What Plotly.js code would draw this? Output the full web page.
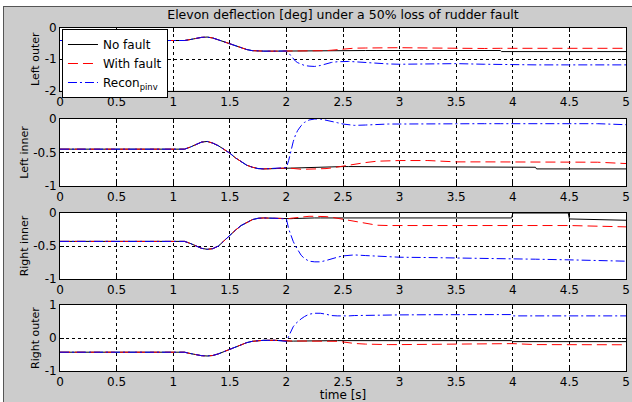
<!DOCTYPE html>
<html>
<head>
<meta charset="utf-8">
<script src="https://cdn.plot.ly/plotly-3.0.1.min.js"></script>
<style>
  html, body { margin: 0; padding: 0; background: #ffffff; width: 632px; height: 402px; overflow: hidden; }
  #chart { position: absolute; left: 3px; top: 6px; width: 628px; height: 395px;
           border-left: 1px solid #555; border-top: 1px solid #555; }
</style>
</head>
<body>
<div id="chart"></div>
<script>
// ---- time bases ----
const tPre  = [0, 1.1, 1.15, 1.2, 1.25, 1.3, 1.35, 1.4, 1.45, 1.5, 1.55, 1.6, 1.65, 1.7, 1.75, 1.8, 1.9, 2.0];
const tPost = [2.02, 2.04, 2.06, 2.08, 2.1, 2.13, 2.16, 2.2, 2.25, 2.3, 2.35, 2.4, 2.45, 2.5, 2.55, 2.6, 2.7, 2.8, 2.9, 3.0, 3.25, 3.5, 3.75, 3.89, 3.9, 3.99, 4.0, 4.2, 4.21, 4.49, 4.5, 4.75, 5.0];

// ---- common response before the fault (identical for all three series) ----
const leftOuterPre  = [-0.40, -0.40, -0.37, -0.33, -0.30, -0.29, -0.32, -0.38, -0.44, -0.50, -0.57, -0.64, -0.69, -0.725, -0.74, -0.74, -0.74, -0.735];
const leftInnerPre  = [-0.45, -0.45, -0.42, -0.38, -0.345, -0.335, -0.36, -0.40, -0.45, -0.51, -0.58, -0.64, -0.69, -0.72, -0.74, -0.745, -0.74, -0.725];
const rightInnerPre = [-0.43, -0.43, -0.46, -0.50, -0.535, -0.55, -0.54, -0.50, -0.42, -0.33, -0.26, -0.19, -0.14, -0.10, -0.08, -0.075, -0.08, -0.09];
const rightOuterPre = [-0.43, -0.43, -0.47, -0.51, -0.535, -0.545, -0.53, -0.48, -0.41, -0.33, -0.26, -0.19, -0.14, -0.10, -0.08, -0.07, -0.07, -0.10];

// ---- after the fault ----
const leftOuterNoFault = [-0.735,-0.73,-0.73,-0.73,-0.73,-0.73,-0.73,-0.725,-0.725,-0.72,-0.72,-0.72,-0.72,-0.72,-0.72,-0.72,-0.72,-0.72,-0.72,-0.72,-0.72,-0.72,-0.72,-0.72,-0.755,-0.755,-0.755,-0.755,-0.755,-0.755,-0.755,-0.755,-0.755];
const leftOuterFault   = [-0.74,-0.745,-0.75,-0.75,-0.75,-0.75,-0.75,-0.745,-0.74,-0.735,-0.725,-0.71,-0.695,-0.68,-0.66,-0.645,-0.64,-0.635,-0.63,-0.63,-0.64,-0.655,-0.655,-0.65,-0.65,-0.65,-0.65,-0.65,-0.65,-0.65,-0.65,-0.65,-0.65];
const leftOuterRecon   = [-0.80,-0.90,-1.0,-1.06,-1.11,-1.16,-1.20,-1.22,-1.23,-1.20,-1.15,-1.10,-1.08,-1.07,-1.07,-1.08,-1.11,-1.13,-1.15,-1.16,-1.15,-1.14,-1.16,-1.17,-1.17,-1.18,-1.18,-1.18,-1.18,-1.18,-1.18,-1.18,-1.18];

const leftInnerNoFault = [-0.725,-0.725,-0.725,-0.725,-0.725,-0.725,-0.725,-0.72,-0.72,-0.72,-0.715,-0.715,-0.71,-0.71,-0.71,-0.71,-0.71,-0.71,-0.71,-0.71,-0.715,-0.715,-0.715,-0.715,-0.715,-0.72,-0.72,-0.72,-0.745,-0.745,-0.745,-0.745,-0.745];
const leftInnerFault   = [-0.73,-0.735,-0.74,-0.745,-0.745,-0.75,-0.75,-0.75,-0.75,-0.745,-0.74,-0.73,-0.715,-0.70,-0.685,-0.67,-0.65,-0.63,-0.62,-0.62,-0.62,-0.64,-0.64,-0.64,-0.64,-0.64,-0.64,-0.64,-0.64,-0.64,-0.64,-0.645,-0.665];
const leftInnerRecon   = [-0.62,-0.46,-0.34,-0.24,-0.17,-0.10,-0.05,-0.015,0,0,-0.015,-0.035,-0.055,-0.075,-0.09,-0.095,-0.09,-0.08,-0.075,-0.075,-0.07,-0.07,-0.07,-0.07,-0.07,-0.07,-0.07,-0.07,-0.07,-0.07,-0.07,-0.07,-0.085];

const rightInnerNoFault = [-0.088,-0.086,-0.084,-0.082,-0.08,-0.078,-0.076,-0.075,-0.075,-0.075,-0.075,-0.075,-0.075,-0.075,-0.075,-0.075,-0.075,-0.075,-0.075,-0.075,-0.075,-0.075,-0.075,-0.075,-0.075,-0.075,0,0,0,0,-0.09,-0.10,-0.11];
const rightInnerFault   = [-0.085,-0.08,-0.075,-0.07,-0.065,-0.06,-0.055,-0.05,-0.05,-0.05,-0.055,-0.065,-0.08,-0.10,-0.12,-0.135,-0.16,-0.185,-0.19,-0.19,-0.185,-0.18,-0.18,-0.18,-0.18,-0.18,-0.18,-0.185,-0.185,-0.19,-0.19,-0.20,-0.21];
const rightInnerRecon   = [-0.24,-0.34,-0.43,-0.50,-0.56,-0.64,-0.69,-0.73,-0.74,-0.74,-0.72,-0.69,-0.67,-0.65,-0.64,-0.635,-0.645,-0.655,-0.665,-0.67,-0.675,-0.685,-0.69,-0.695,-0.695,-0.695,-0.695,-0.70,-0.70,-0.71,-0.71,-0.72,-0.73];

const rightOuterNoFault = [-0.098,-0.096,-0.094,-0.092,-0.09,-0.088,-0.086,-0.085,-0.085,-0.08,-0.08,-0.08,-0.08,-0.08,-0.08,-0.08,-0.08,-0.08,-0.08,-0.08,-0.08,-0.08,-0.08,-0.08,-0.08,-0.08,-0.11,-0.11,-0.11,-0.11,-0.11,-0.11,-0.11];
const rightOuterFault   = [-0.095,-0.09,-0.09,-0.09,-0.09,-0.09,-0.09,-0.09,-0.09,-0.09,-0.09,-0.09,-0.10,-0.12,-0.15,-0.165,-0.185,-0.20,-0.20,-0.20,-0.195,-0.19,-0.18,-0.175,-0.175,-0.17,-0.17,-0.20,-0.20,-0.20,-0.20,-0.20,-0.205];
const rightOuterRecon   = [0.05,0.20,0.34,0.43,0.50,0.58,0.65,0.72,0.75,0.75,0.72,0.68,0.67,0.665,0.67,0.68,0.69,0.695,0.70,0.70,0.705,0.71,0.71,0.71,0.71,0.71,0.67,0.67,0.67,0.67,0.67,0.67,0.67];

// ---- labels ----
const seriesNames = ['No fault', 'With fault', 'Recon<sub>pinv</sub>'];
const panelNames  = ['Left outer', 'Left inner', 'Right inner', 'Right outer'];
const yTickVals = [[-2, -1, 0], [-1, -0.5, 0], [-1, -0.5, 0], [-1, 0, 1]];
const yTickText = [['-2', '-1', '0'], ['-1', '-0.5', '0'], ['-1', '-0.5', '0'], ['-1', '0', '1']];
const yRanges   = [[-2, 0], [-1, 0], [-1, 0], [-1, 1]];
const titleText = 'Elevon deflection [deg] under a 50% loss of rudder fault';
const xLabel    = 'time [s]';

// ---- assemble ----
const pres = [leftOuterPre, leftInnerPre, rightInnerPre, rightOuterPre];
const posts = [
  [leftOuterNoFault, leftOuterFault, leftOuterRecon],
  [leftInnerNoFault, leftInnerFault, leftInnerRecon],
  [rightInnerNoFault, rightInnerFault, rightInnerRecon],
  [rightOuterNoFault, rightOuterFault, rightOuterRecon]
];
const lineStyles = [
  {color: '#000000', width: 1, dash: 'solid'},
  {color: '#ff0000', width: 1, dash: '10px,5px'},
  {color: '#0000ff', width: 1, dash: '9px,3px,2px,3px'}
];
const tAll = tPre.concat(tPost);
const FONT = 'DejaVu Sans, Verdana, sans-serif';

const traces = [];
for (let p = 0; p < 4; p++) {
  for (let s = 0; s < 3; s++) {
    traces.push({
      x: tAll,
      y: pres[p].concat(posts[p][s]),
      type: 'scatter', mode: 'lines',
      name: seriesNames[s],
      showlegend: p === 0,
      line: lineStyles[s],
      xaxis: p === 0 ? 'x' : 'x' + (p + 1),
      yaxis: p === 0 ? 'y' : 'y' + (p + 1),
      hoverinfo: 'skip'
    });
  }
}

const H = 395;
const boxes = [[21, 83.5], [112, 179], [206, 272], [298, 364]];
const layout = {
  width: 628, height: 395,
  margin: {l: 56, r: 6, t: 0, b: 0, pad: 0},
  paper_bgcolor: '#cccccc',
  plot_bgcolor: '#ffffff',
  font: {family: FONT, size: 12, color: '#000000'},
  title: {text: titleText, font: {family: FONT, size: 12.5, color: '#000'},
          x: 0.5, xref: 'paper', xanchor: 'center', y: 1 - 7.5 / H, yref: 'container', yanchor: 'middle'},
  showlegend: true,
  legend: {x: 0.0035, y: 1 - 22 / H, xanchor: 'left', yanchor: 'top', bgcolor: '#ffffff',
           bordercolor: '#000000', borderwidth: 1, font: {family: FONT, size: 12, color: '#000'},
           tracegroupgap: 0}
};
for (let p = 0; p < 4; p++) {
  const sfx = p === 0 ? '' : String(p + 1);
  const dom = [1 - boxes[p][1] / H, 1 - boxes[p][0] / H];
  const common = {
    showline: true, linecolor: '#000', linewidth: 1, mirror: 'ticks',
    ticks: 'inside', ticklen: 4, tickcolor: '#000', tickwidth: 1,
    showgrid: true, gridcolor: '#000', gridwidth: 1, griddash: '3px,3px',
    zeroline: false, fixedrange: true, automargin: false,
    tickfont: {family: FONT, size: 12, color: '#000'}
  };
  const xa = Object.assign({}, common, {
    domain: [0, 1], range: [0, 5], dtick: 0.5, tick0: 0, anchor: 'y' + sfx
  });
  if (p === 3) xa.title = {text: xLabel, font: {family: FONT, size: 12, color: '#000'}, standoff: 3};
  layout['xaxis' + sfx] = xa;
  layout['yaxis' + sfx] = Object.assign({}, common, {
    domain: dom, range: yRanges[p], tickmode: 'array', tickvals: yTickVals[p], ticktext: yTickText[p],
    anchor: 'x' + sfx,
    title: {text: panelNames[p], font: {family: FONT, size: 11, color: '#000'}, standoff: 2}
  });
}

Plotly.newPlot('chart', traces, layout, {displayModeBar: false, staticPlot: true});
</script>
</body>
</html>
